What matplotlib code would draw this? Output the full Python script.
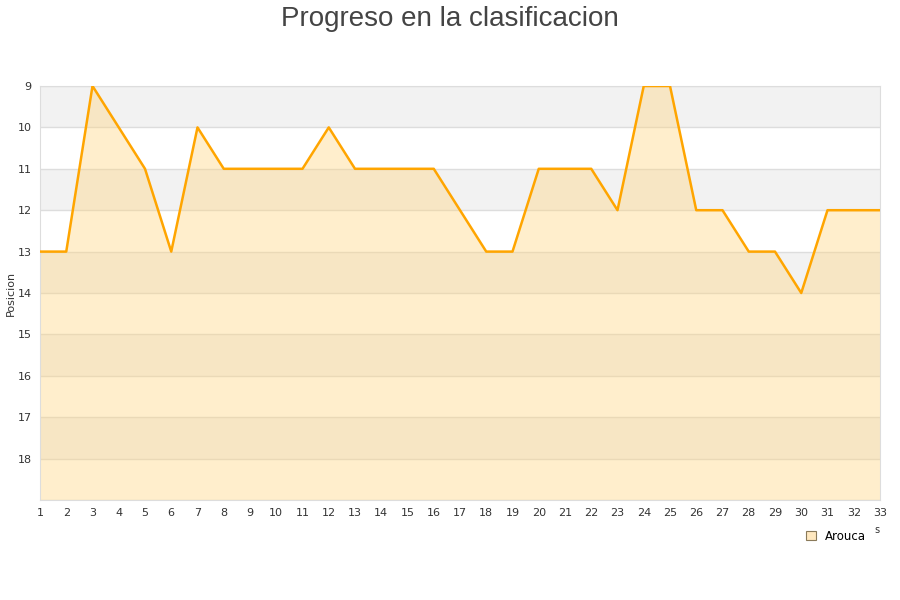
import numpy as np
import matplotlib.pyplot as plt
from matplotlib.patches import Patch

# jornadas y posiciones
rounds = list(range(1, 34))
positions = [13, 13, 9, 10, 11, 13, 10, 11, 11, 11, 11, 10, 11, 11, 11, 11,
             12, 13, 13, 11, 11, 11, 12, 9, 9, 12, 12, 13, 13, 14, 12, 12, 12]
team = "Arouca"
y_ticks = list(range(9, 19))

fig = plt.figure(figsize=(9, 6), dpi=100)
ax = fig.add_axes([40 / 900, 1 - 500 / 600, 840 / 900, 414 / 600])

# alternating bands
for y in range(9, 19, 2):
    ax.axhspan(y, y + 1, color='#f2f2f2', zorder=0, lw=0)
for y in range(9, 20):
    ax.axhline(y, color='#dddddd', lw=1, zorder=1)

ax.fill_between(rounds, positions, 19, color='#ffd580', alpha=0.4, lw=0, zorder=2)
ax.plot(rounds, positions, color='#ffa500', lw=1.8, zorder=3)

ax.set_xlim(1, 33)
ax.set_ylim(19, 9)
ax.set_xticks(rounds)
ax.set_yticks(y_ticks)
ax.tick_params(length=0, labelsize=8, colors='#333333', pad=6)
for s in ax.spines.values():
    s.set_color('#dddddd')

fig.text(11 / 900, 1 - 293 / 600, 'Posicion', fontsize=8, color='#333333',
         rotation=90, ha='center', va='center')

fig.suptitle('Progreso en la clasificacion', x=0.5, y=0.99, fontsize=20,
             color='#444444', family='Liberation Sans')

fig.text(874 / 900, 1 - 533 / 600, 's', fontsize=7, color='#333333')
handle = Patch(facecolor='#ffe8bf', edgecolor='#8a7a5a', lw=0.8)
fig.legend([handle], [team], loc='center', bbox_to_anchor=(836 / 900, 1 - 536 / 600),
           frameon=False, fontsize=8.5, handlelength=0.8, handleheight=0.8,
           handletextpad=0.8)

fig.savefig('out.png', dpi=100)
